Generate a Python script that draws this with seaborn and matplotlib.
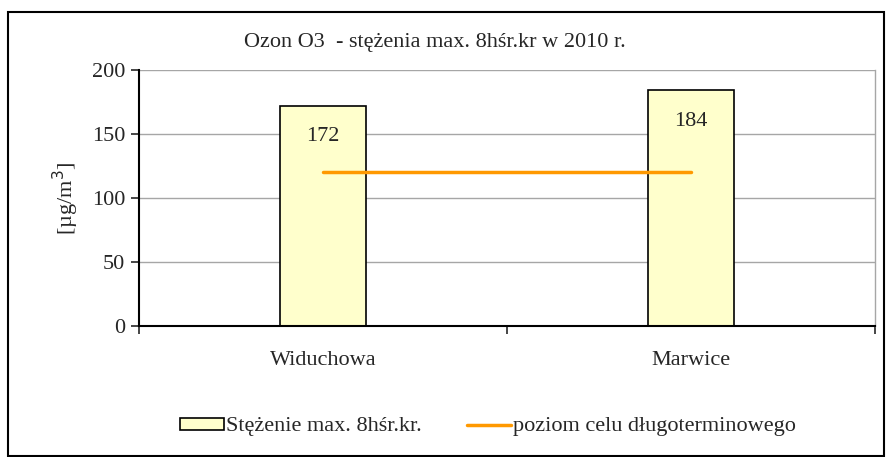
import seaborn as sns
import pandas as pd
import matplotlib.pyplot as plt
from matplotlib.patches import Rectangle, Patch
from matplotlib.lines import Line2D

# data
stations = ['Widuchowa', 'Marwice']
ozone_max = [172, 184]
target_level = [120, 120]

df = pd.DataFrame({'stacja': stations, 'wartosc': ozone_max})

sns.set_style('white')
plt.rcParams['font.family'] = ['Liberation Serif', 'DejaVu Serif']

fig = plt.figure(figsize=(8.89, 4.57), dpi=100)
ax = fig.add_axes([139/889, 1 - 326/457, (875 - 139)/889, (326 - 70)/457])

sns.barplot(data=df, x='stacja', y='wartosc', ax=ax, width=0.234,
            color='#ffffcc', edgecolor='black', linewidth=1.2, saturation=1)
ax.plot(range(len(stations)), target_level, color='#ff9900', lw=2.5, zorder=3)

ax.bar_label(ax.containers[0], padding=-29, fontsize=16)

ax.set_xlim(-0.5, 1.5)
ax.set_ylim(0, 200)
ax.set_yticks([0, 50, 100, 150, 200])
ax.yaxis.grid(True, color='#a6a6a6', lw=1)
ax.set_axisbelow(True)
ax.tick_params(axis='y', left=True, direction='out', length=6, width=1.2, labelsize=16, pad=4)
ax.tick_params(axis='x', which='major', length=0, labelsize=16, pad=18)
ax.set_xticks([-0.5, 0.5, 1.5], minor=True)
ax.tick_params(axis='x', which='minor', bottom=True, direction='out', length=6, width=1.2)
ax.set_xlabel('')
ax.set_ylabel('[µg/m$^3$]', fontsize=16, labelpad=8)

for s in ['left', 'bottom']:
    ax.spines[s].set_color('black')
    ax.spines[s].set_linewidth(1.5)
ax.spines['top'].set_visible(False)
ax.spines['right'].set_color('#a6a6a6')
ax.spines['right'].set_linewidth(1)

fig.text(435/889, 1 - 42/457, 'Ozon O3  - stężenia max. 8hśr.kr w 2010 r.',
         ha='center', va='center', fontsize=16)

handles = [Patch(facecolor='#ffffcc', edgecolor='black', linewidth=1.2),
           Line2D([0], [0], color='#ff9900', lw=2.5)]
fig.legend(handles, ['Stężenie max. 8hśr.kr.', 'poziom celu długoterminowego'],
           loc='center', bbox_to_anchor=(488/889, 1 - 427/457), ncol=2,
           frameon=False, fontsize=16, handlelength=2.0, handleheight=0.45,
           handletextpad=0.1, columnspacing=2.0)

# outer frame
fig.patches.append(Rectangle((8/889, 0.002), (884 - 8)/889, 1 - 12/457 - 0.002,
                             transform=fig.transFigure, fill=False,
                             edgecolor='black', lw=1.5))

fig.savefig('out.png', dpi=100)
